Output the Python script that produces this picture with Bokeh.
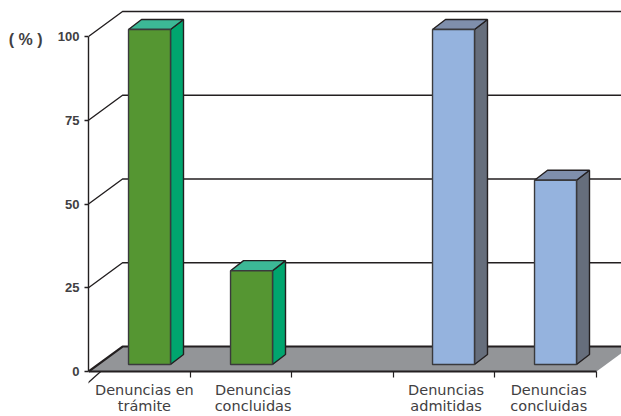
from bokeh.plotting import figure
from bokeh.embed import file_html
from bokeh.resources import INLINE
from bokeh.models import FixedTicker, LinearAxis, Range1d

categories = ["Denuncias en\ntrámite", "Denuncias\nconcluidas", "Denuncias\nadmitidas", "Denuncias\nconcluidas"]
values = [100, 28, 100, 55]
bar_slots = [0.394, 1.398, 3.386, 4.39]
label_slots = [0.55, 1.62, 3.52, 4.53]
slot_ticks = [1, 2, 3, 4, 5]
y_ticks = [0, 25, 50, 75, 100]
unit_label = "( % )"
front_colors = ["#559632", "#559632", "#95b3de", "#95b3de"]
side_colors = ["#00a56e", "#00a56e", "#666e7c", "#666e7c"]
top_colors = ["#3cb896", "#3cb896", "#7f8fac", "#7f8fac"]

INK = "#231f20"
BAR_W = 0.413
OFF_X, OFF_Y = 0.094, 2.09        # bar set back from the front edge of the floor
DEPTH_X, DEPTH_Y = 0.128, 3.0     # bar depth
WALL_X, WALL_Y = 0.335, 7.46      # chart depth

p = figure(width=621, height=416, output_backend="svg", toolbar_location=None,
           x_range=Range1d(0, 5.246), y_range=Range1d(-13.43, 110.75),
           x_axis_type=None, y_axis_type=None,
           min_border_left=88, min_border_right=0, min_border_top=0, min_border_bottom=0,
           outline_line_color=None, background_fill_color="white")
p.grid.visible = False

# floor
p.patch([0, 5, 5 + WALL_X, WALL_X], [0, 0, WALL_Y, WALL_Y],
        fill_color="#939598", line_color=None)

# back wall and side wall gridlines
for v in y_ticks:
    w = 2.2 if v == 0 else 1.4
    p.line([0, WALL_X, 5.3], [v, v + WALL_Y, v + WALL_Y], line_color=INK, line_width=w)

# stub continuing the floor's left edge under the axis
p.line([0.12, -0.02], [0, -3.8], line_color=INK, line_width=1.2)

# bars
for i, (x, v) in enumerate(zip(bar_slots, values)):
    x0, x1 = x, x + BAR_W
    y0, y1 = OFF_Y, OFF_Y + v
    p.patch([x1, x1 + DEPTH_X, x1 + DEPTH_X, x1],
            [y0, y0 + DEPTH_Y, y1 + DEPTH_Y, y1],
            fill_color=side_colors[i], line_color=INK, line_width=1.4)
    p.patch([x0, x1, x1 + DEPTH_X, x0 + DEPTH_X],
            [y1, y1, y1 + DEPTH_Y, y1 + DEPTH_Y],
            fill_color=top_colors[i], line_color=INK, line_width=1.4)
    p.quad(left=x0, right=x1, bottom=y0, top=y1,
           fill_color=front_colors[i], line_color="#3a3a3c", line_width=1.4)

# axes
yaxis = LinearAxis(ticker=FixedTicker(ticks=y_ticks), bounds=(0, 100),
                   axis_line_color=INK, axis_line_width=1.4,
                   major_tick_line_color=INK, major_tick_line_width=1.4,
                   major_tick_in=0, major_tick_out=4, major_label_standoff=5,
                   major_label_text_font="Liberation Sans", major_label_text_font_style="bold",
                   major_label_text_font_size="13px", major_label_text_color="#414042")
p.add_layout(yaxis, "left")

# "( % )" beside the top of the scale
unit_axis = LinearAxis(ticker=FixedTicker(ticks=[99]), axis_line_color=None,
                       major_tick_line_color=None, major_tick_in=0, major_tick_out=0,
                       minor_tick_line_color=None, major_label_standoff=12,
                       major_label_overrides={99: unit_label},
                       major_label_text_font="Liberation Sans", major_label_text_font_style="bold",
                       major_label_text_font_size="16px", major_label_text_color="#414042")
p.add_layout(unit_axis, "left")

xaxis = LinearAxis(ticker=FixedTicker(ticks=label_slots, minor_ticks=slot_ticks), bounds=(0, 5),
                   fixed_location=0,
                   axis_line_color=INK, axis_line_width=2.2,
                   major_tick_in=0, major_tick_out=0, minor_tick_in=0, minor_tick_out=6,
                   minor_tick_line_color=INK, minor_tick_line_width=1.2,
                   major_label_overrides={t: c for t, c in zip(label_slots, categories)},
                   major_label_standoff=4,
                   major_label_text_font="DejaVu Sans", major_label_text_font_size="14.5px",
                   major_label_text_line_height=1.05,
                   major_label_text_color="#414042")
p.add_layout(xaxis, "below")

open("out.html", "w").write(file_html(p, INLINE))
